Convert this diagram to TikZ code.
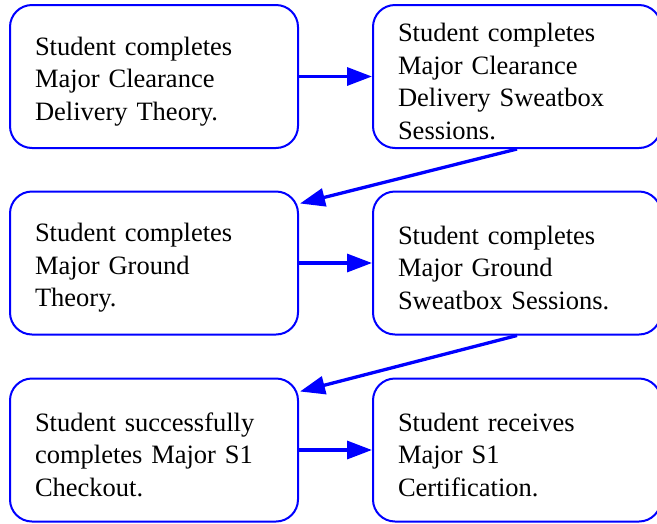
\documentclass[tikz,border=0pt]{standalone}
\usepackage{fontspec}
\setmainfont{Liberation Serif}
\usetikzlibrary{arrows.meta,calc}
\definecolor{boxblue}{RGB}{0,0,255}
\tikzset{
  stepbox/.style={draw=boxblue, line width=2pt, rounded corners=22pt, fill=white,
    minimum height=143pt, inner xsep=25pt, inner ysep=0pt, text width=238pt, align=left,
    font=\fontsize{26.5pt}{32.5pt}\selectfont,
    execute at begin node={\rule{0pt}{28pt}}},
  flow/.style={draw=boxblue, line width=3.3pt, -{Triangle[length=25pt,width=18pt]}}
}
\begin{document}
\begin{tikzpicture}[x=1pt,y=1pt]
\useasboundingbox (0,0) rectangle (657,-523);
\node[stepbox] (A) at (154,-76.5) {Student completes\\Major Clearance\\Delivery Theory.};
\node[stepbox] (B) at (517,-76.5) {Student completes\\Major Clearance\\Delivery Sweatbox\\Sessions.};
\node[stepbox] (C) at (154,-263) {Student completes\\Major Ground\\Theory.};
\node[stepbox] (D) at (517,-263) {Student completes\\Major Ground\\Sweatbox Sessions.};
\node[stepbox] (E) at (154,-450) {Student successfully\\completes Major S1\\Checkout.};
\node[stepbox] (F) at (517,-450) {Student receives\\Major S1\\Certification.};
\draw[flow] (A.east) -- (B.west);
\draw[flow] (C.east) -- (D.west);
\draw[flow] (E.east) -- (F.west);
\draw[flow] (B.south) -- ([xshift=1pt,yshift=-13pt]C.north east);
\draw[flow] (D.south) -- ([xshift=1pt,yshift=-14pt]E.north east);
\end{tikzpicture}
\end{document}
